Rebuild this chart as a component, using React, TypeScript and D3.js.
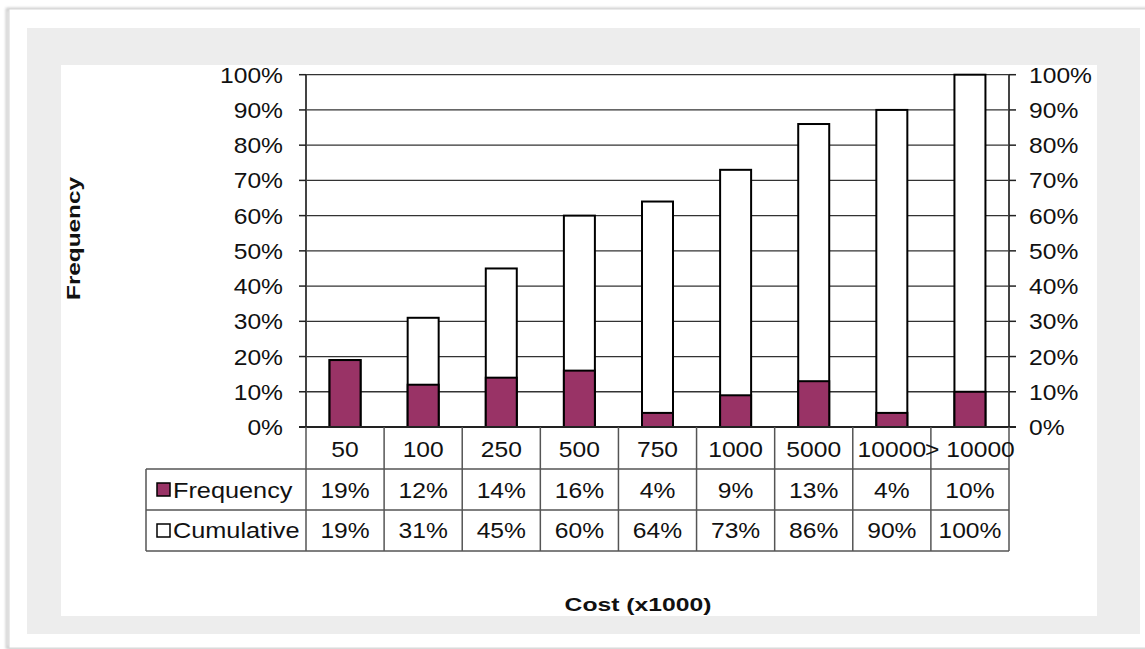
import React from "react";
import * as d3 from "d3";

// Cost buckets (x1000) and their share of items
const categories = ["50", "100", "250", "500", "750", "1000", "5000", "10000", "> 10000"];
const frequency = [19, 12, 14, 16, 4, 9, 13, 4, 10];
const cumulative = [19, 31, 45, 60, 64, 73, 86, 90, 100];
const yTicks = [0, 10, 20, 30, 40, 50, 60, 70, 80, 90, 100];

const W = 1145;
const H = 649;
const FONT = "Arial, 'Liberation Sans', Helvetica, sans-serif";
const MAGENTA = "#993366";

const plot = { left: 306, right: 1009, top: 74.7, bottom: 427 };
const rows = [427, 469, 510, 551];
const tableLeft = 146;
const SX = 1.12;

function Txt({ x, y, children, anchor = "middle", size = 22, weight = "normal", sx = SX, rotate = 0 }: any) {
  const t = `translate(${x},${y})${rotate ? ` rotate(${rotate})` : ""} scale(${sx},1)`;
  return (
    <text transform={t} textAnchor={anchor} fontFamily={FONT} fontSize={size} fontWeight={weight} fill="#111">
      {children}
    </text>
  );
}

export default function App() {
  const x = d3.scaleBand<string>().domain(categories).range([plot.left, plot.right]).padding(0);
  const y = d3.scaleLinear().domain([0, 100]).range([plot.bottom, plot.top]);
  const bw = 31;
  const pct = (v: number) => `${v}%`;

  return (
    <svg width={W} height={H} style={{ position: "absolute", left: 0, top: 0, display: "block" }}>
      <defs>
        <filter id="edge" x="-5%" y="-5%" width="110%" height="110%">
          <feGaussianBlur stdDeviation="1.5" />
        </filter>
      </defs>
      <rect x={0} y={0} width={W} height={H} fill="#fff" />
      {/* card frame */}
      <rect x={7} y={9} width={W} height={639} fill="none" stroke="#bbb" strokeWidth={2} filter="url(#edge)" />
      <rect x={9} y={9} width={W} height={639} fill="#fff" stroke="#d6d6d6" strokeWidth={1} />
      {/* chart area background */}
      <rect x={27} y={28} width={1113} height={606} fill="#ededed" />
      <rect x={61} y={65} width={1036} height={551} fill="#fff" />

      {/* gridlines */}
      {yTicks.map((t) => (
        <line key={`g${t}`} x1={plot.left} x2={plot.right} y1={y(t)} y2={y(t)} stroke="#333" strokeWidth={1.3} />
      ))}

      {/* cumulative bars */}
      {categories.map((c, i) => (
        <rect
          key={`c${c}`}
          x={x(c)! + x.bandwidth() / 2 - bw / 2}
          y={y(cumulative[i])}
          width={bw}
          height={y(0) - y(cumulative[i])}
          fill="#fff"
          stroke="#000"
          strokeWidth={2}
        />
      ))}
      {/* frequency bars */}
      {categories.map((c, i) => (
        <rect
          key={`f${c}`}
          x={x(c)! + x.bandwidth() / 2 - bw / 2}
          y={y(frequency[i])}
          width={bw}
          height={y(0) - y(frequency[i])}
          fill={MAGENTA}
          stroke="#000"
          strokeWidth={2}
        />
      ))}

      {/* axes */}
      <line x1={plot.left} x2={plot.left} y1={plot.top} y2={plot.bottom} stroke="#444" strokeWidth={2} />
      <line x1={plot.right} x2={plot.right} y1={plot.top} y2={plot.bottom} stroke="#444" strokeWidth={2} />
      <line x1={plot.left - 7} x2={plot.right + 7} y1={plot.bottom} y2={plot.bottom} stroke="#222" strokeWidth={2} />
      {yTicks.map((t) => (
        <g key={`t${t}`}>
          <line x1={plot.left - 7} x2={plot.left} y1={y(t)} y2={y(t)} stroke="#222" strokeWidth={1.5} />
          <line x1={plot.right} x2={plot.right + 7} y1={y(t)} y2={y(t)} stroke="#222" strokeWidth={1.5} />
          <Txt x={283} y={y(t) + 8} anchor="end">{pct(t)}</Txt>
          <Txt x={1029} y={y(t) + 8} anchor="start">{pct(t)}</Txt>
        </g>
      ))}

      {/* data table */}
      <g stroke="#555" strokeWidth={1.5}>
        <line x1={tableLeft} x2={plot.right} y1={rows[1]} y2={rows[1]} />
        <line x1={tableLeft} x2={plot.right} y1={rows[2]} y2={rows[2]} />
        <line x1={tableLeft} x2={plot.right} y1={rows[3]} y2={rows[3]} />
        <line x1={tableLeft} x2={tableLeft} y1={rows[1]} y2={rows[3]} />
        {categories.map((c) => (
          <line key={`v${c}`} x1={x(c)!} x2={x(c)!} y1={rows[0]} y2={rows[3]} />
        ))}
        <line x1={plot.right} x2={plot.right} y1={rows[0]} y2={rows[3]} />
      </g>
      {categories.map((c, i) => {
        const cx = x(c)! + x.bandwidth() / 2;
        return (
          <g key={`r${c}`}>
            <Txt x={cx} y={457}>{c}</Txt>
            <Txt x={cx} y={498}>{pct(frequency[i])}</Txt>
            <Txt x={cx} y={538}>{pct(cumulative[i])}</Txt>
          </g>
        );
      })}
      {/* legend keys in table */}
      <rect x={157} y={483} width={13} height={13} fill={MAGENTA} stroke="#000" strokeWidth={1.5} />
      <Txt x={173} y={498} anchor="start" sx={1.15}>Frequency</Txt>
      <rect x={157} y={524} width={13} height={13} fill="#fff" stroke="#000" strokeWidth={1.5} />
      <Txt x={173} y={538} anchor="start" sx={1.15}>Cumulative</Txt>

      {/* axis titles */}
      <Txt x={80} y={238.5} rotate={-90} size={19} weight="bold" sx={1.28}>Frequency</Txt>
      <Txt x={638} y={611} size={19} weight="bold" sx={1.3}>Cost (x1000)</Txt>
    </svg>
  );
}
